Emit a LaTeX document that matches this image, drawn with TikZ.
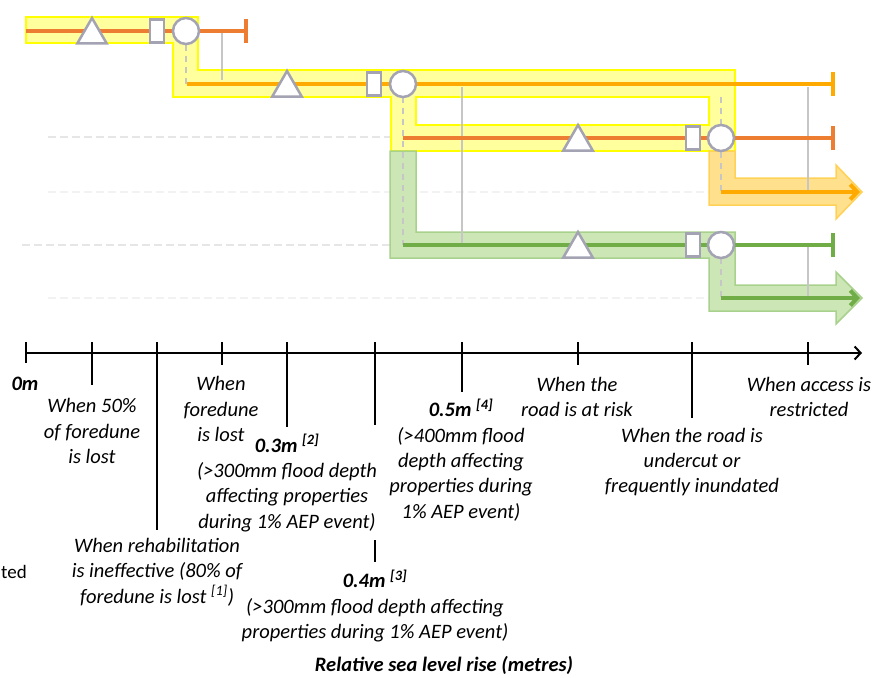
\documentclass[tikz,border=0pt]{standalone}
\usepackage{fontspec}
\setmainfont{Carlito}
\usetikzlibrary{arrows.meta,shapes.geometric}
\definecolor{orangeline}{HTML}{ED7D31}
\definecolor{goldline}{HTML}{FFAA00}
\definecolor{greenline}{HTML}{70AD47}
\definecolor{yellowfill}{HTML}{FFFF9E}
\definecolor{yellowedge}{HTML}{FFFF00}
\definecolor{amberfill}{HTML}{FFE08C}
\definecolor{amberedge}{HTML}{FFD257}
\definecolor{greenfill}{HTML}{CDE6B6}
\definecolor{greenedge}{HTML}{A9D18E}
\definecolor{symgray}{HTML}{A3A3B3}
\definecolor{linkgray}{HTML}{C6C6C6}
\definecolor{faintgray}{HTML}{E6E6E6}
\begin{document}
\begin{tikzpicture}[x=1pt,y=-1pt,
  bandline/.style={line width=1.5pt},
  sym/.style={draw=symgray,line width=2.5pt,fill=white,inner sep=0pt,outer sep=0pt},
  tri/.style={sym,regular polygon,regular polygon sides=3,minimum size=34pt},
  boxsym/.style={sym,rectangle,minimum width=14pt,minimum height=23pt},
  circsym/.style={sym,circle,minimum size=26pt},
  rowline/.style={line width=4pt},
  endbar/.style={line width=4pt},
  linkline/.style={draw=linkgray,line width=2.5pt},
  dashlink/.style={draw=linkgray,line width=2pt,dash pattern=on 6pt off 5pt},
  faint/.style={draw=faintgray,line width=1.2pt,dash pattern=on 8pt off 4pt},
  tickline/.style={line width=2pt,black},
  lbl/.style={font=\fontsize{20.5}{25.3}\selectfont\itshape,align=center,inner sep=0pt},
  blbl/.style={font=\fontsize{20.5}{25.3}\selectfont\bfseries\itshape,align=center,inner sep=0pt}]
\useasboundingbox (0,0) rectangle (875,677);

% faint background dashed guide lines
\draw[faint] (48,137) -- (391,137);
\draw[faint] (22,245) -- (390,245);
\draw[faint,draw=faintgray!50] (48,192) -- (709,192);
\draw[faint,draw=faintgray!50] (48,298) -- (709,298);

% bands
\filldraw[fill=yellowfill,draw=yellowedge,bandline,even odd rule]
  (26,17) -- (198,17) -- (198,70) -- (735,70) -- (735,151) -- (391,151) -- (391,97) -- (173,97) -- (173,43) -- (26,43) -- cycle
  (416,97) -- (709,97) -- (709,125) -- (416,125) -- cycle;
\filldraw[fill=greenfill,draw=greenedge,bandline]
  (390,151) -- (416,151) -- (416,232) -- (735,232) -- (735,285) -- (836,285) -- (836,272) -- (862,298) -- (836,324) -- (836,311) -- (709,311) -- (709,258) -- (390,258) -- cycle;
\filldraw[fill=amberfill,draw=amberedge,bandline]
  (709,151) -- (735,151) -- (735,178) -- (836,178) -- (836,165) -- (862,192) -- (836,219) -- (836,205) -- (709,205) -- cycle;

% coordinates of row lines
\coordinate (r1s) at (26,31);  \coordinate (r1e) at (246,31);
\coordinate (r2s) at (187,84); \coordinate (r2e) at (833,84);
\coordinate (r3s) at (403,138); \coordinate (r3e) at (833,138);
\coordinate (r4s) at (721,192); \coordinate (r4e) at (860,192);
\coordinate (r5s) at (403,245); \coordinate (r5e) at (833,245);
\coordinate (r6s) at (721,298); \coordinate (r6e) at (860,298);

% gray link lines
\coordinate (g1a) at (222,33); \coordinate (g1b) at (222,80);
\coordinate (g2a) at (462,87); \coordinate (g2b) at (462,243);
\coordinate (g3a) at (808,87); \coordinate (g3b) at (808,190);
\coordinate (g4a) at (808,247); \coordinate (g4b) at (808,296);
\draw[linkline] (g1a) -- (g1b);
\draw[linkline] (g2a) -- (g2b);
\draw[linkline] (g3a) -- (g3b);
\draw[linkline] (g4a) -- (g4b);

% dashed drop lines
\coordinate (d1a) at (186,45); \coordinate (d1b) at (186,84);
\coordinate (d2a) at (403,97); \coordinate (d2b) at (403,245);
\coordinate (d3a) at (721,97); \coordinate (d3b) at (721,192);
\coordinate (d4a) at (721,258); \coordinate (d4b) at (721,298);
\draw[dashlink] (d1a) -- (d1b);
\draw[dashlink] (d2a) -- (d2b);
\draw[dashlink] (d3a) -- (d3b);
\draw[dashlink] (d4a) -- (d4b);

% coloured pathway lines
\draw[rowline,orangeline] (r1s) -- (r1e);
\draw[endbar,orangeline] ([yshift=-12pt]r1e) -- ([yshift=12pt]r1e);
\draw[rowline,goldline] (r2s) -- (r2e);
\draw[endbar,goldline] ([yshift=-12pt]r2e) -- ([yshift=12pt]r2e);
\draw[rowline,orangeline] (r3s) -- (r3e);
\draw[endbar,orangeline] ([yshift=-12pt]r3e) -- ([yshift=12pt]r3e);
\draw[rowline,goldline,-{Straight Barb[length=7pt,width=15pt]}] (r4s) -- (r4e);
\draw[rowline,greenline] (r5s) -- (r5e);
\draw[endbar,greenline] ([yshift=-12pt]r5e) -- ([yshift=12pt]r5e);
\draw[rowline,greenline,-{Straight Barb[length=7pt,width=15pt]}] (r6s) -- (r6e);

% symbols
\node[tri] (t1) at (92,35) {};
\node[boxsym] (b1) at (157,31) {};
\node[circsym] (c1) at (186,31) {};
\node[tri] (t2) at (287,88) {};
\node[boxsym] (b2) at (374,84) {};
\node[circsym] (c2) at (403,84) {};
\node[tri] (t3) at (578,142) {};
\node[boxsym] (b3) at (693,138) {};
\node[circsym] (c3) at (721,138) {};
\node[tri] (t5) at (578,249) {};
\node[boxsym] (b5) at (693,245) {};
\node[circsym] (c5) at (721,245) {};

% axis
\coordinate (ax0) at (26,353); \coordinate (ax1) at (862,353);
\draw[tickline,-{Straight Barb[length=6pt,width=13pt]}] (ax0) -- (ax1);
\foreach \x/\a/\b in {26/342/363, 92/342/385, 157/342/530, 222/342/365, 287/342/427, 375/342/425, 375/540/562, 462/342/392, 578/342/365, 692/342/418, 808/342/365}
  \draw[tickline] (\x,\a) -- (\x,\b);

% labels
\node[blbl] (l0) at (25,384) {0m};
\node[lbl] (l1) at (92,431) {When 50\%\\of foredune\\is lost};
\node[lbl] (l2) at (221,409) {When\\foredune\\is lost};
\node[lbl] (l3) at (287,483) {\textbf{0.3m \textsuperscript{[2]}}\\(>300mm flood depth\\affecting properties\\during 1\% AEP event)};
\node[lbl] (l4) at (157,572) {When rehabilitation\\is ineffective (80\% of\\foredune is lost \textsuperscript{[1]})};
\node[lbl] (l5) at (375,606) {\textbf{0.4m \textsuperscript{[3]}}\\(>300mm flood depth affecting\\properties during 1\% AEP event)};
\node[lbl] (l6) at (461,460) {\textbf{0.5m \textsuperscript{[4]}}\\(>400mm flood\\depth affecting\\properties during\\1\% AEP event)};
\node[lbl] (l7) at (577,397) {When the\\road is at risk};
\node[lbl] (l8) at (692,462) {When the road is\\undercut or\\frequently inundated};
\node[lbl] (l9) at (809,397) {When access is\\restricted};
\node[blbl] (lx) at (444,665) {Relative sea level rise (metres)};
\node[font=\fontsize{19}{23}\selectfont,inner sep=0pt,anchor=west] (lt) at (1,572) {ted};
\end{tikzpicture}
\end{document}
